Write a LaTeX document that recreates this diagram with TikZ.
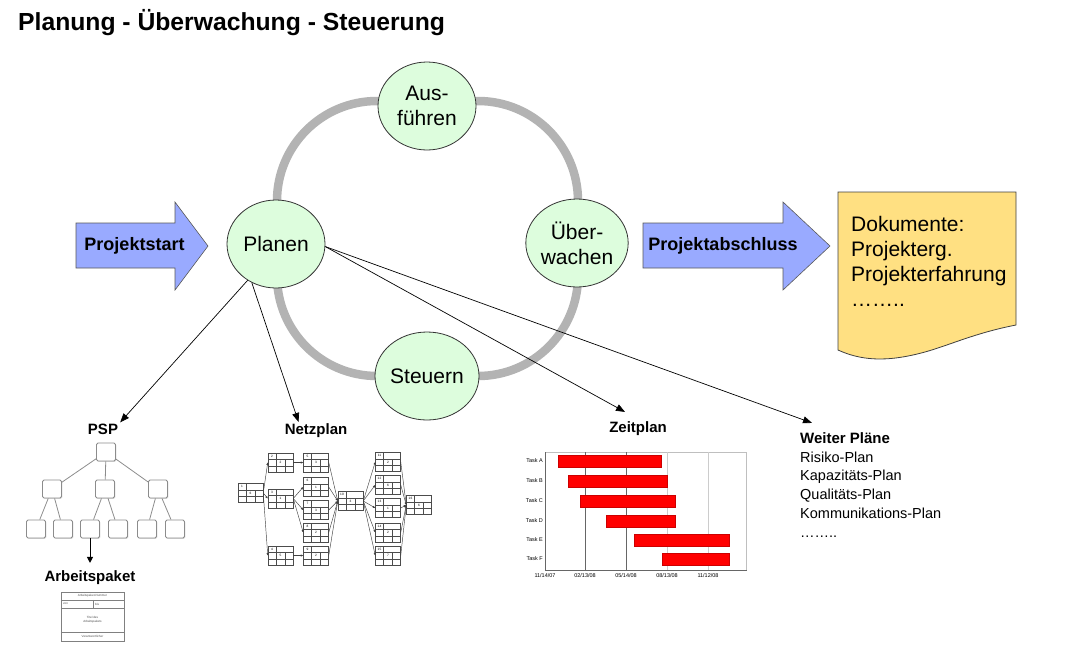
\documentclass[tikz,border=0pt]{standalone}
\usepackage{fontspec}
\setmainfont{Liberation Sans}
\usetikzlibrary{shapes.geometric,arrows.meta,shadows}
\definecolor{ringgray}{RGB}{179,179,179}
\definecolor{circfill}{RGB}{221,253,221}
\definecolor{arrowblue}{RGB}{153,170,255}
\definecolor{docyellow}{RGB}{255,224,130}
\definecolor{barred}{RGB}{255,0,0}
\begin{document}
\begin{tikzpicture}[x=1pt,y=-1pt,
  phase/.style={ellipse, draw=black!80, line width=0.8pt, fill=circfill, minimum width=98pt, minimum height=88pt, inner sep=0pt, font=\fontsize{21}{25}\selectfont, align=center},
  blockarrow/.style={fill=arrowblue, draw=black!65, line width=0.6pt},
  arrowlabel/.style={font=\bfseries\fontsize{18}{21}\selectfont, inner sep=0pt},
  sublabel/.style={font=\bfseries\fontsize{15}{18}\selectfont, inner sep=0pt},
  link/.style={-{Triangle[length=9pt,width=7pt]}, line width=0.7pt},
  pspbox/.style={draw=black!45, line width=0.9pt, fill=white, rounded corners=1.5pt, minimum width=19pt, minimum height=18pt, inner sep=0pt, drop shadow={shadow xshift=0.8pt, shadow yshift=-0.8pt, opacity=0.3}},
  pspedge/.style={draw=black!45, line width=0.8pt},
  nbox/.style={draw=black!70, line width=0.5pt, minimum width=25pt, minimum height=19pt, inner sep=0pt},
  nline/.style={draw=black!70, line width=0.4pt},
  nedge/.style={-{Triangle[length=2.5pt,width=2pt]}, draw=black!75, line width=0.45pt},
  tinytext/.style={font=\fontsize{3}{3.6}\selectfont, inner sep=0pt, text=black!70},
  ganttlabel/.style={font=\fontsize{5.5}{6}\selectfont, inner sep=0pt},
  bar/.style={fill=barred, draw=red!80!black, line width=0.3pt}
]
\useasboundingbox (0,0) rectangle (1066,670);

% title
\node[anchor=base west, font=\bfseries\fontsize{24.7}{28}\selectfont, inner sep=0pt] (title) at (18,30) {Planung - Überwachung - Steuerung};

% ring
\draw[ringgray, line width=8.5pt, rounded corners=100pt] (277,101) rectangle (578,376);

% phases
\node[phase] (aus) at (427,106) {Aus-\\führen};
\node[phase] (pl) at (276,244) {Planen};
\node[phase] (ub) at (577,243) {Über-\\wachen};
\node[phase] (st) at (427,376) {Steuern};

% block arrows
\draw[blockarrow] (76,223) -- (175,223) -- (175,202) -- (208,246) -- (175,290) -- (175,268) -- (76,268) -- cycle;
\node[arrowlabel] (ps) at (134.5,246) {Projektstart};
\draw[blockarrow] (643,223) -- (783,223) -- (783,202) -- (830,246) -- (783,290) -- (783,268) -- (643,268) -- cycle;
\node[arrowlabel] (pa) at (723,246) {Projektabschluss};

% document
\draw[fill=docyellow, draw=black!75, line width=0.8pt] (838,192) -- (1016,192) -- (1016,325) .. controls (975,333) and (950,345) .. (925,352) .. controls (885,363) and (860,360) .. (838,350) -- cycle;
\node[anchor=north west, align=left, font=\fontsize{21}{25}\selectfont, inner sep=0pt] (doc) at (851,216.5) {Dokumente:\\Projekterg.\\Projekterfahrung\\……..};

% sub labels
\node[sublabel, anchor=base] (psp) at (103,434) {PSP};
\node[sublabel, anchor=base] (np) at (316,434) {Netzplan};
\node[sublabel, anchor=base] (zp) at (638,432) {Zeitplan};
\node[sublabel, anchor=base west] (wp) at (800,443) {Weiter Pläne};
\node[anchor=north west, align=left, font=\fontsize{14.5}{18.8}\selectfont, inner sep=0pt] (wl) at (800,451.4) {Risiko-Plan\\Kapazitäts-Plan\\Qualitäts-Plan\\Kommunikations-Plan\\……..};

% connectors from Planen
\draw[link] (pl.-128) -- ([xshift=2pt,yshift=1pt]psp.north east);
\draw[link] (pl.-122) -- ([xshift=14pt,yshift=1pt]np.north west);
\draw[link] (pl.-3) -- ([xshift=-13pt,yshift=9pt]zp.north);
\draw[link] (pl.-3) -- ([xshift=12pt,yshift=9pt]wp.north west);

% PSP tree
\node[pspbox] (p0) at (106,452) {};
\node[pspbox] (p1) at (52,489) {};
\node[pspbox] (p2) at (105,489) {};
\node[pspbox] (p3) at (158,489) {};
\node[pspbox] (p4) at (36,529) {};
\node[pspbox] (p5) at (63,529) {};
\node[pspbox] (p6) at (90,529) {};
\node[pspbox] (p7) at (118,529) {};
\node[pspbox] (p8) at (147,529) {};
\node[pspbox] (p9) at (175,529) {};
\foreach \a/\b in {p0/p1,p0/p2,p0/p3,p1/p4,p1/p5,p2/p6,p2/p7,p3/p8,p3/p9}
  \draw[pspedge] (\a) -- (\b);
\node[sublabel, anchor=base] (ap) at (90,581) {Arbeitspaket};
\draw[-{Triangle[length=6pt,width=6pt]}, line width=1pt] (p6.south) -- ([yshift=7pt]ap.north);

% Arbeitspaket card
\node[draw=black!50, line width=0.5pt, minimum width=63pt, minimum height=49pt, inner sep=0pt] (card) at (92.5,616.5) {};
\draw[black!50, line width=0.4pt] ([yshift=-8pt]card.north west) -- ([yshift=-8pt]card.north east);
\draw[black!50, line width=0.4pt] ([yshift=-16pt]card.north west) -- ([yshift=-16pt]card.north east);
\draw[black!50, line width=0.4pt] ([yshift=9pt]card.south west) -- ([yshift=9pt]card.south east);
\draw[black!50, line width=0.4pt] ([xshift=0.5pt,yshift=-8pt]card.north) -- ([xshift=0.5pt,yshift=-16pt]card.north);
\node[tinytext] (cnum) at (92.5,596) {Arbeitspaket-Nummer};
\node[tinytext, anchor=west] (cvon) at (63,604) {von};
\node[tinytext, anchor=west] (cbis) at (95,604) {bis};
\node[tinytext, align=center] (ctit) at (92.5,620) {Titel des\\Arbeitspakets};
\node[tinytext] (cver) at (92.5,636.5) {Verantwortlicher};

% Netzplan
\foreach \i/\x/\y/\v in {1/250.5/493/6, 2/280.5/462.5/2, 3/280.5/498.5/1, 4/280.5/555.5/5,
  5/316/462.5/3, 6/316/487/1, 7/316/510/3, 8/316/532.5/2, 9/316/555.5/2,
  10/350.5/501/3, 11/388/462/2, 12/388/485/6, 13/388/508/1, 14/388/532.5/2, 15/388/555.5/7,
  16/419/505/6} {
  \node[nbox] (n\i) at (\x,\y) {};
  \begin{scope}[shift={(\x,\y)}]
    \draw[nline] (-12.5,-3) -- (12.5,-3);
    \draw[nline] (-12.5,3.5) -- (12.5,3.5);
    \draw[nline] (-4.5,-9.5) -- (-4.5,-3);
    \draw[nline] (-4.5,-3) -- (-4.5,9.5);
    \draw[nline] (4.5,-3) -- (4.5,9.5);
    \node[font=\fontsize{3.2}{3.6}\selectfont, inner sep=0pt] (t\i) at (-8.5,-6.2) {\i};
    \node[font=\fontsize{3.2}{3.6}\selectfont, inner sep=0pt] (v\i) at (0,0.2) {\v};
  \end{scope}
}
\foreach \a/\b in {1/2,1/3,1/4,2/5,3/6,3/7,3/8,4/9,5/10,6/10,7/10,8/10,9/10,
  10/11,10/12,10/13,10/14,10/15,11/16,12/16,13/16,14/16,15/16}
  \draw[nedge] (n\a.east) -- (n\b.west);

% Zeitplan (Gantt chart)
\node[draw=black!25, line width=0.6pt, minimum width=201pt, minimum height=118pt, inner sep=0pt, anchor=north west] (gframe) at (545,452) {};
\draw[black!60, line width=0.6pt] (gframe.north west) -- (gframe.south west) -- (gframe.south east);
\foreach \gx/\gc in {585/black!60, 626/black!60, 667/black!20, 708/black!20}
  \draw[\gc, line width=0.6pt] (\gx,452) -- (\gx,570);
\foreach \t/\y/\s/\e in {A/461/558/661, B/481/568/667, C/501/580/675, D/521/606/675, E/540/634/729, F/559/662/729} {
  \draw[bar] (\s,\y-6) rectangle (\e,\y+6);
  \node[ganttlabel, anchor=east] (task\t) at (543,\y) {Task \t};
}
\foreach \dx/\dl/\dn in {545/11\slash14\slash07/d1, 585/02\slash13\slash08/d2, 626/05\slash14\slash08/d3, 667/08\slash13\slash08/d4, 708/11\slash12\slash08/d5}
  \node[ganttlabel] (\dn) at (\dx,576) {\dl};

\end{tikzpicture}
\end{document}
